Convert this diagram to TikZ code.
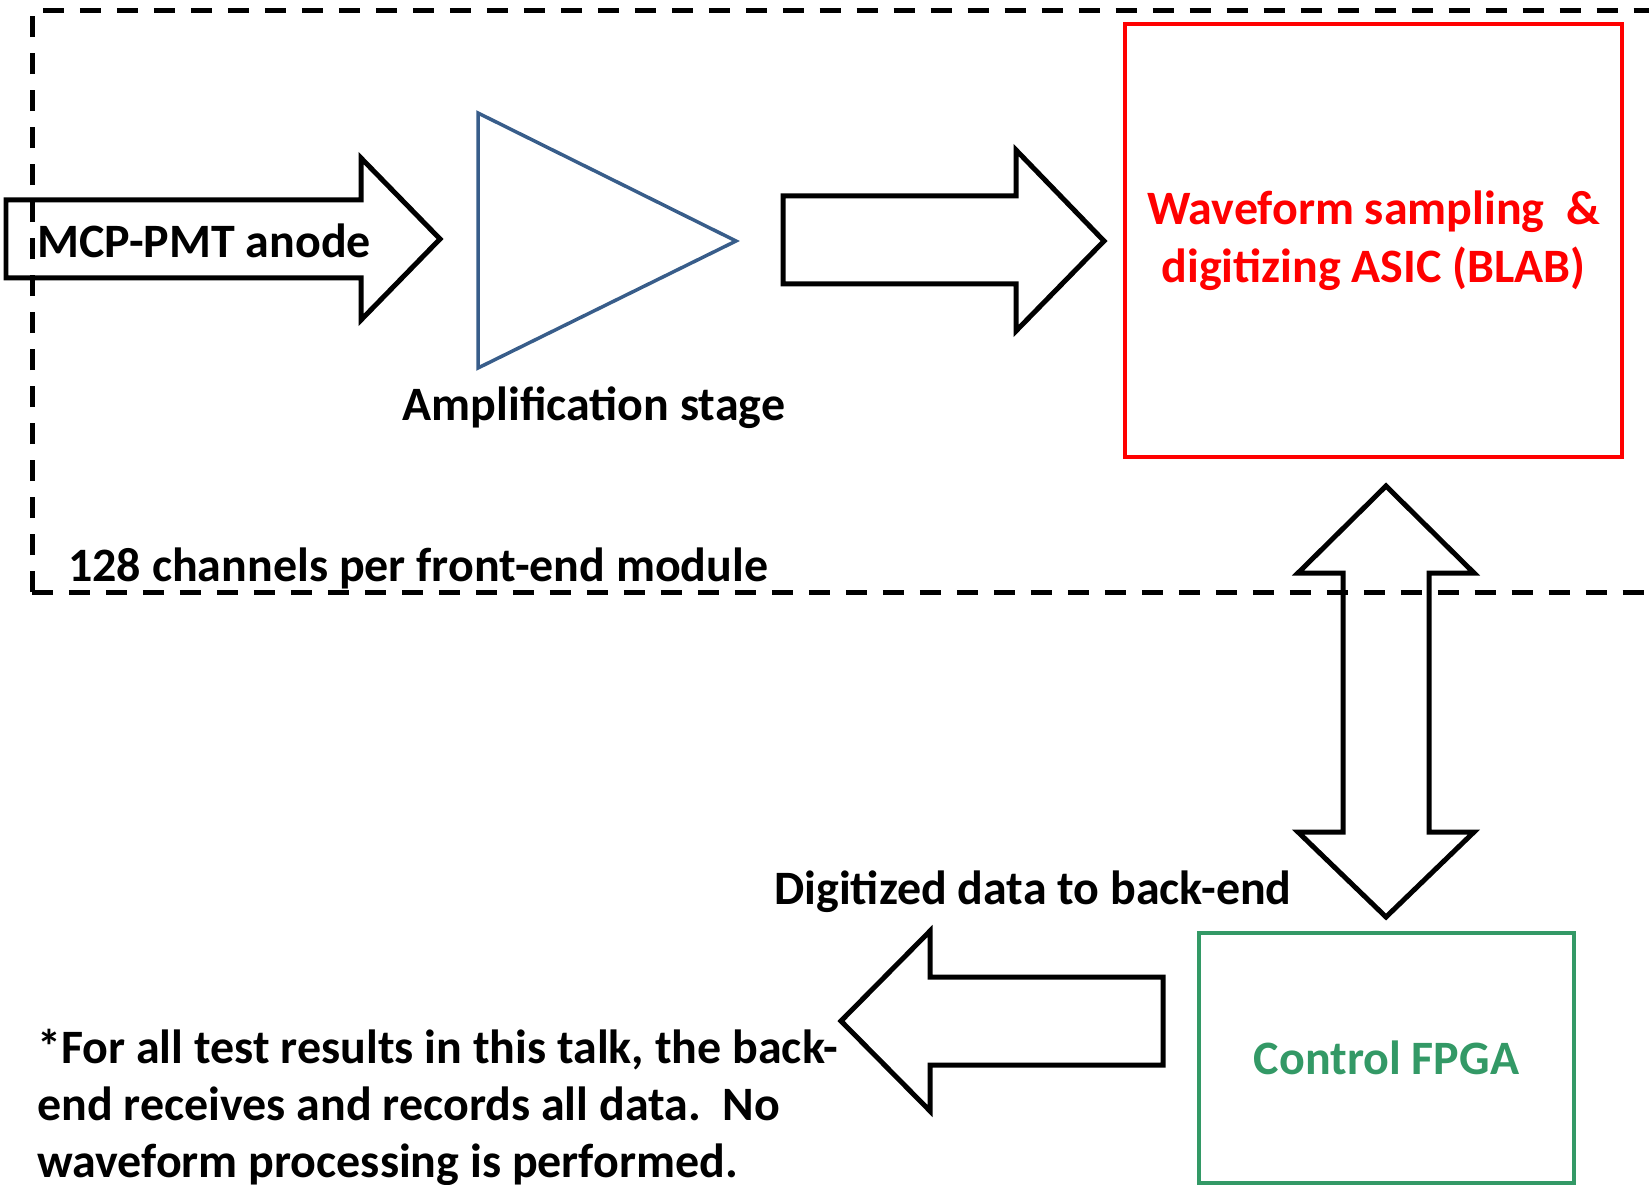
\documentclass[tikz,border=0pt]{standalone}
\usepackage{fontspec}
\setmainfont{Carlito}
\usepackage{tikz}
\usetikzlibrary{positioning}
\definecolor{asicred}{RGB}{255,0,0}
\definecolor{fpgagreen}{RGB}{51,153,102}
\definecolor{ampblue}{RGB}{56,93,138}
\tikzset{
    %Define style for text labels
    lbl/.style={
           font=\fontsize{27.3}{33}\selectfont\bfseries,
           inner sep=0pt},
    %Define style for boxes
    chipbox/.style={
           rectangle,
           line width=0.08cm,
           inner sep=0pt,
           align=center,
           font=\fontsize{27.3}{33}\selectfont\bfseries},
    % Define block arrow style
    blockarrow/.style={
           draw=black,
           line width=0.1cm,
           line join=miter},
    modframe/.style={
           draw=black,
           line width=0.1cm,
           dash pattern=on 0.42cm off 0.32cm}
}
\begin{document}
\begin{tikzpicture}[x=0.02cm,y=-0.02cm]
\useasboundingbox (0,0) rectangle (1649,1185);
 %front-end module frame
\draw[modframe] (32,592) -- (32,11) -- (1649,11);
\draw[modframe] (32,592) -- (1649,592);

 %nodes
\node[chipbox, draw=asicred, text=asicred, minimum width=9.94cm, minimum height=8.66cm] (asic) at (1373.5,240.5) {Waveform sampling\ \ \&\\digitizing ASIC (BLAB)};
\node[chipbox, draw=fpgagreen, text=fpgagreen, minimum width=7.5cm, minimum height=5cm] (fpga) at (1386.5,1058) {Control FPGA};

 %amplifier
\draw[ampblue, line width=0.07cm, line join=miter] (478,113) -- (736,241) -- (478,368) -- cycle;
\node[lbl] (amplbl) at (594,408) {Amplification stage};

 %block arrows
\draw[blockarrow] (6,200) -- (361,200) -- (361,158) -- (440,239) -- (361,320) -- (361,278) -- (6,278) -- cycle;
\draw[blockarrow] (783,196) -- (1016,196) -- (1016,150) -- (1104,241) -- (1016,331) -- (1016,284) -- (783,284) -- cycle;
\draw[blockarrow] (1386,486) -- (1474,573) -- (1429,573) -- (1429,832) -- (1474,832) -- (1386,917) -- (1298,832) -- (1343,832) -- (1343,573) -- (1298,573) -- cycle;
\draw[blockarrow] (841,1021) -- (930,931) -- (930,977) -- (1163,977) -- (1163,1065) -- (930,1065) -- (930,1111) -- cycle;

 %labels
\node[lbl, anchor=west] (anode) at (37,241) {MCP-PMT anode};
\node[lbl, anchor=west] (chanlbl) at (68,568) {128 channels per front-end module};
\node[lbl] (datalbl) at (1033,892) {Digitized data to back-end};
\node[lbl, anchor=west, align=left, font=\fontsize{27.3}{32.4}\selectfont\bfseries] (note) at (37,1107) {*For all test results in this talk, the back-\\end receives and records all data.\ \ No\\waveform processing is performed.};

\end{tikzpicture}
\end{document}
